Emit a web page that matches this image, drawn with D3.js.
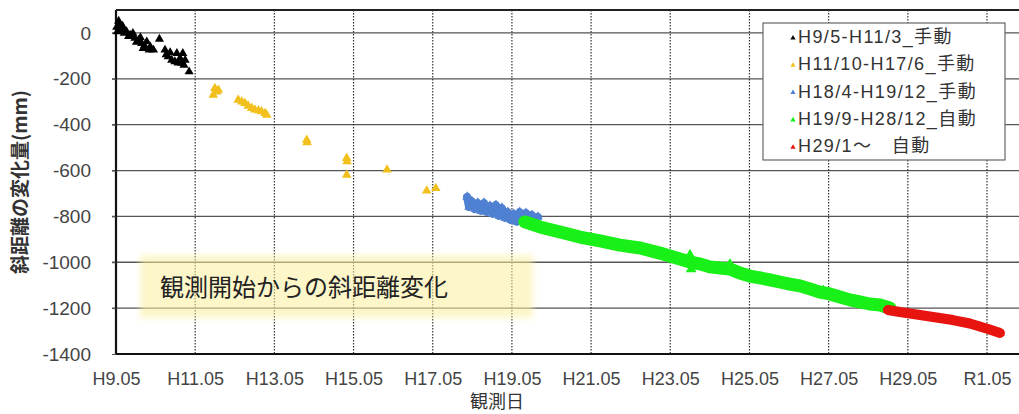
<!DOCTYPE html>
<html>
<head>
<meta charset="utf-8">
<script src="https://cdn.jsdelivr.net/npm/d3@7"></script>
<style>
  body { margin: 0; background: #fff; }
  text { font-family: "Liberation Sans", "Noto Sans CJK JP", sans-serif; }
</style>
</head>
<body>
<div id="vis"></div>
<script>
// Layout (pixels of the 1019x414 picture)
const margin = {left: 116, top: 10, bottom: 60, right: 0}
const W = 1019, H = 414
const plotBottom = H - margin.bottom   // 354

// x is a decimal Heisei year, y is slope-distance change in mm
const xTicks = [9.333, 11.333, 13.333, 15.333, 17.333, 19.333, 21.333, 23.333, 25.333, 27.333, 29.333, 31.333]
const xTickLabels = ['H9.05', 'H11.05', 'H13.05', 'H15.05', 'H17.05', 'H19.05', 'H21.05', 'H23.05', 'H25.05', 'H27.05', 'H29.05', 'R1.05']
const yTicks = [0, -200, -400, -600, -800, -1000, -1200, -1400]

// H9/5-H11/3 manual
const blackData = [[9.35,25],[9.37,6],[9.40,52],[9.42,38],[9.45,10],[9.48,20],[9.50,30],[9.54,-1],[9.60,6],[9.65,-15],
  [9.69,-9],[9.76,-1],[9.81,-23],[9.85,-40],[9.90,-31],[9.95,-20],[9.98,-45],[10.02,-67],[10.05,-55],[10.11,-38],
  [10.17,-74],[10.20,-60],[10.28,-74],[10.43,-27],[10.57,-74],[10.60,-95],[10.65,-103],[10.70,-85],[10.74,-118],
  [10.82,-125],[10.87,-89],[10.90,-130],[10.95,-110],[10.99,-132],[11.02,-89],[11.05,-140],[11.08,-118],[11.18,-169]]

// H11/10-H17/6 manual
const orangeData = [[11.83,-241],[11.79,-270],[11.88,-256],[11.92,-249],[12.42,-292],[12.51,-300],[12.59,-307],
  [12.67,-318],[12.76,-328],[12.84,-335],[12.93,-338],[13.01,-343],[13.10,-350],[13.14,-358],[14.15,-467],
  [14.16,-478],[15.16,-546],[15.17,-561],[15.16,-619],[16.18,-597],[17.18,-688],[17.41,-677]]

// H18/4-H19/12 manual
const blueData = [[18.20,-715],[18.25,-759],[18.32,-733],[18.40,-768],[18.47,-741],[18.55,-776],[18.63,-741],
  [18.70,-781],[18.78,-754],[18.85,-789],[18.93,-750],[19.01,-798],[19.08,-763],[19.16,-807],[19.23,-781],
  [19.31,-816],[19.38,-789],[19.46,-824],[19.53,-781],[19.61,-820],[19.69,-785],[19.76,-824],[19.84,-794],
  [19.91,-820],[19.99,-802]]

// H19/9-H28/12 automatic
const greenData = [[19.66,-824],[20.04,-846],[20.55,-868],[21.05,-890],[21.56,-907],[22.06,-925],[22.57,-938],
  [23.07,-960],[23.32,-973],[23.58,-986],[23.83,-999],[24.08,-1007],[24.33,-1020],[24.59,-1025],[24.84,-1029],
  [25.09,-1047],[25.34,-1060],[25.60,-1068],[25.85,-1077],[26.10,-1086],[26.35,-1095],[26.61,-1103],[26.86,-1116],
  [27.11,-1130],[27.36,-1138],[27.62,-1151],[27.87,-1164],[28.12,-1173],[28.37,-1182],[28.63,-1186],[28.88,-1199]]
const greenSpikes = [[23.83,-968],[23.86,-1030],[24.84,-1008],[27.20,-1124]]

// H29/1- automatic
const redData = [[28.83,-1208],[29.13,-1217],[29.64,-1230],[30.14,-1243],[30.47,-1252],[30.90,-1267],
  [31.15,-1280],[31.40,-1293],[31.66,-1308]]

const legendLabels = ['H9/5-H11/3_手動', 'H11/10-H17/6_手動', 'H18/4-H19/12_手動', 'H19/9-H28/12_自動', 'H29/1〜　自動']
const legendColors = ['#000000', '#f2c01c', '#4f80d2', '#18f018', '#e8140f']

var x_scale = d3.scaleLinear()
    .domain([9.333, 31.333])
    .range([margin.left, 987])

var y_scale = d3.scaleLinear()
    .domain([-1400, 100])
    .range([plotBottom, margin.top])

drawInitial()

function drawInitial(){

    let svg = d3.select('#vis')
        .append('svg')
        .attr('width', W)
        .attr('height', H)

    let defs = svg.append('defs')
    defs.append('filter').attr('id', 'soft')
        .attr('x', '-10%').attr('y', '-30%').attr('width', '120%').attr('height', '160%')
        .append('feGaussianBlur').attr('stdDeviation', 3)

    // horizontal grid
    svg.append('g')
        .selectAll('line')
        .data(yTicks.slice(0, -1))
        .enter()
        .append('line')
        .attr('x1', margin.left - 4)
        .attr('x2', W)
        .attr('y1', d => y_scale(d))
        .attr('y2', d => y_scale(d))
        .style('stroke', '#555')
        .style('stroke-width', 1.3)

    // vertical dotted grid
    svg.append('g')
        .selectAll('line')
        .data(xTicks.slice(1))
        .enter()
        .append('line')
        .attr('x1', d => x_scale(d))
        .attr('x2', d => x_scale(d))
        .attr('y1', margin.top)
        .attr('y2', plotBottom)
        .style('stroke', '#333')
        .style('stroke-width', 1.2)
        .style('stroke-dasharray', '1.5,1.5')

    // annotation box (behind the data)
    svg.append('rect')
        .attr('x', 140).attr('y', 255)
        .attr('width', 393).attr('height', 63)
        .style('fill', '#fbef9e')
        .style('opacity', 0.55)
        .attr('filter', 'url(#soft)')
    svg.append('text')
        .attr('x', 160).attr('y', 296)
        .style('font-family', '"Noto Sans CJK JP", sans-serif')
        .style('font-size', '24px')
        .style('fill', '#222')
        .text('観測開始からの斜距離変化')

    // top frame and axes
    svg.append('line')
        .attr('x1', margin.left).attr('x2', W)
        .attr('y1', margin.top).attr('y2', margin.top)
        .style('stroke', '#222').style('stroke-width', 2)

    let xAxis = svg.append('g')
        .attr('transform', `translate(0,${plotBottom})`)
        .call(d3.axisBottom(x_scale).tickValues(xTicks).tickSize(0)
            .tickFormat((d, i) => xTickLabels[i]))
    xAxis.select('.domain').attr('d', `M${margin.left},0H${W}`).style('stroke', '#111').style('stroke-width', 2.2)
    xAxis.selectAll('text')
        .attr('y', 31).attr('dy', null)
        .style('font-size', '18px')
        .style('fill', '#444')

    let yAxis = svg.append('g')
        .attr('transform', `translate(${margin.left},0)`)
        .call(d3.axisLeft(y_scale).tickValues(yTicks).tickSize(4).tickPadding(21)
            .tickFormat(d => String(d)))
    yAxis.select('.domain').attr('d', `M0,${margin.top}V${plotBottom}`).style('stroke', '#111').style('stroke-width', 2.2)
    yAxis.selectAll('.tick line').style('stroke', '#555')
    yAxis.selectAll('text')
        .style('font-size', '19px')
        .style('fill', '#444')

    // axis titles
    svg.append('text')
        .attr('transform', 'translate(27,182) rotate(-90)')
        .attr('text-anchor', 'middle')
        .style('font-family', '"Noto Sans CJK JP", sans-serif')
        .style('font-size', '19px')
        .style('font-weight', 'bold')
        .style('fill', '#333')
        .text('斜距離の変化量(mm)')

    svg.append('text')
        .attr('x', 497).attr('y', 408)
        .attr('text-anchor', 'middle')
        .style('font-family', '"Noto Sans CJK JP", sans-serif')
        .style('font-size', '18px')
        .style('fill', '#333')
        .text('観測日')

    // dense automatic / manual series: band through the points plus markers
    let line = d3.line()
        .x(d => x_scale(d[0]))
        .y(d => y_scale(d[1]))

    function band(data, color, w){
        svg.append('path')
            .datum(data)
            .attr('d', line)
            .style('fill', 'none')
            .style('stroke', color)
            .style('stroke-width', w)
            .style('stroke-linejoin', 'round')
            .style('stroke-linecap', 'round')
    }

    let tri = d3.symbol().type(d3.symbolTriangle)

    function markers(data, color, size){
        svg.append('g')
            .selectAll('path')
            .data(data)
            .enter()
            .append('path')
            .attr('d', tri.size(size)())
            .attr('transform', d => `translate(${x_scale(d[0])},${y_scale(d[1])})`)
            .style('fill', color)
    }

    band(blueData, legendColors[2], 8)
    markers(blueData, legendColors[2], 40)
    band(greenData, legendColors[3], 13)
    markers(greenData.concat(greenSpikes), legendColors[3], 50)
    band(redData, legendColors[4], 10)
    markers(redData, legendColors[4], 40)
    markers(orangeData, legendColors[1], 40)
    markers(blackData, legendColors[0], 36)

    // legend
    let legend = svg.append('g')
    legend.append('rect')
        .attr('x', 763).attr('y', 23)
        .attr('width', 242).attr('height', 137)
        .style('fill', '#fff')
        .style('stroke', '#666')
        .style('stroke-width', 1.2)

    let rows = legend.selectAll('g.row')
        .data(legendLabels)
        .enter()
        .append('g')
        .attr('class', 'row')
        .attr('transform', (d, i) => `translate(793,${36 + i * 27.3})`)

    rows.append('path')
        .attr('d', tri.size(12)())
        .attr('transform', 'translate(0,2)')
        .style('fill', (d, i) => legendColors[i])

    rows.append('text')
        .attr('x', 5).attr('y', 7)
        .style('font-size', '18px')
        .style('letter-spacing', '1.4px')
        .style('fill', '#333')
        .text(d => d)
}
</script>
</body>
</html>
